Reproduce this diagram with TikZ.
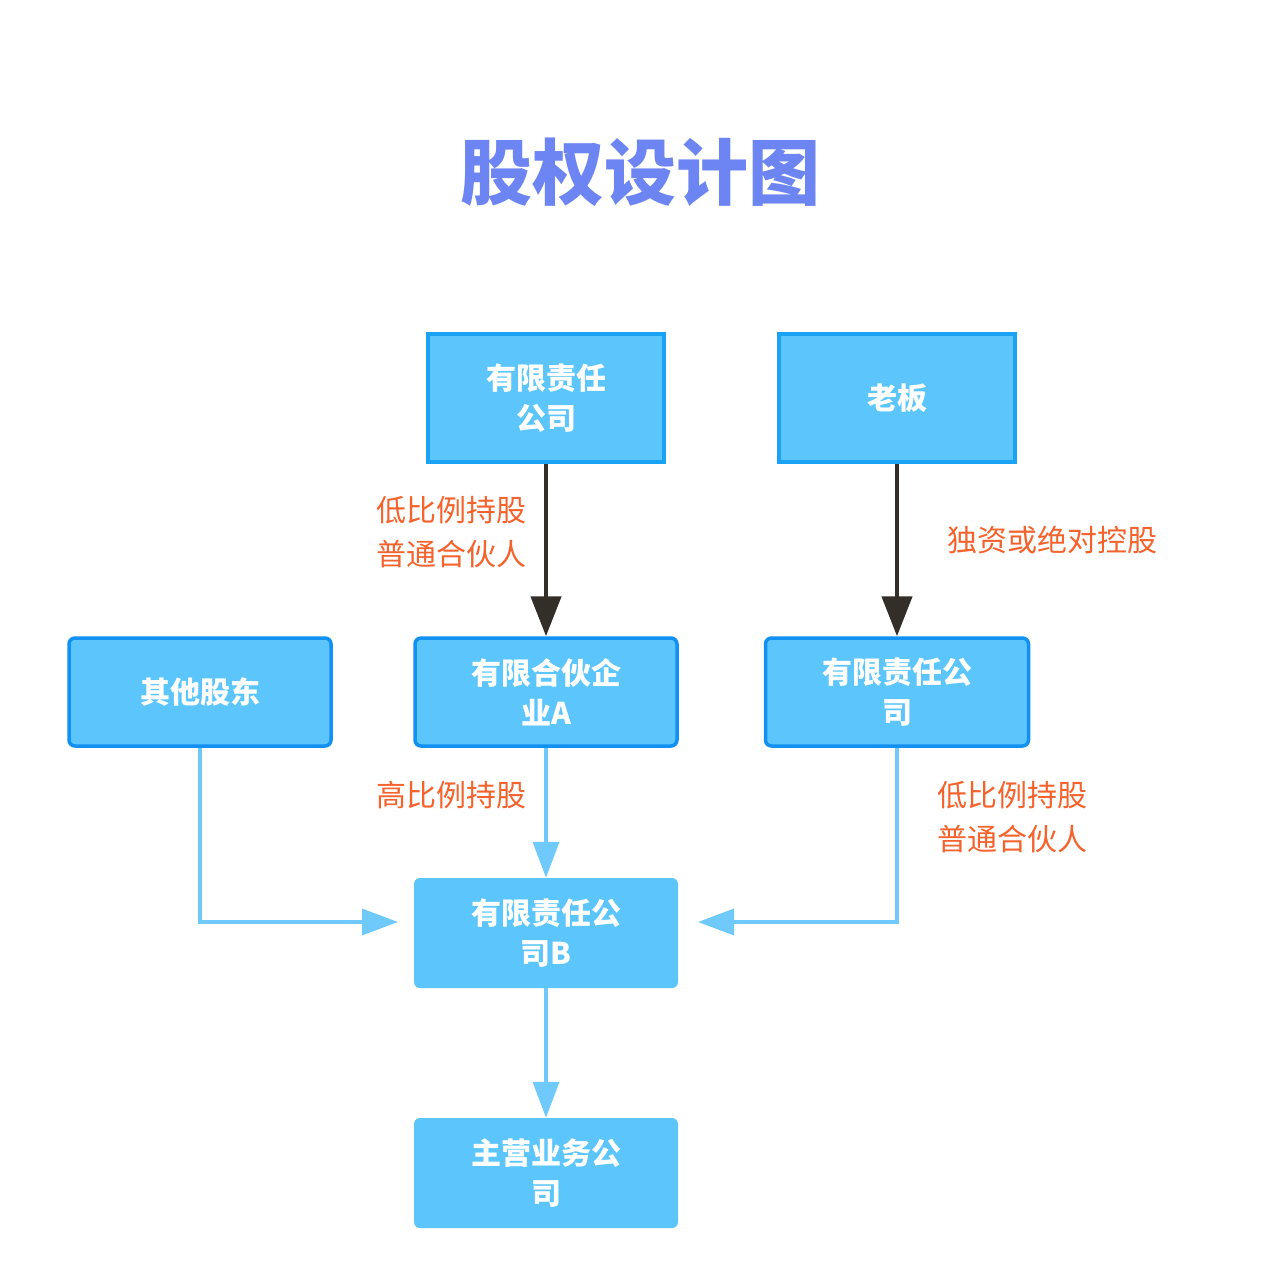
\documentclass[tikz,border=0pt]{standalone}
\usepackage{fontspec}
\setmainfont{Noto Sans CJK SC}
\usetikzlibrary{arrows.meta}
\definecolor{boxfill}{HTML}{5CC6FC}
\definecolor{boxline}{HTML}{1AA3F5}
\definecolor{rline}{HTML}{1291F2}
\definecolor{lblue}{HTML}{6FC9FA}
\definecolor{dark}{HTML}{332F28}
\definecolor{lab}{HTML}{F5622C}
\definecolor{title}{HTML}{6C85F3}
\begin{document}
\begin{tikzpicture}[x=1pt,y=-1pt,
 txt/.style={text=white,font=\fontsize{30}{40}\selectfont\bfseries,align=center},
 sq/.style={txt,fill=boxfill,draw=boxline,line width=3.5pt,inner sep=0pt},
 rd/.style={txt,fill=boxfill,draw=rline,line width=3.5pt,rounded corners=6pt,inner sep=0pt},
 nb/.style={txt,fill=boxfill,rounded corners=6pt,inner sep=0pt},
 lb/.style={text=lab,font=\fontsize{30}{44}\selectfont,align=left,inner sep=0pt},
 darr/.style={draw=dark,line width=4.5pt,-{Triangle[width=30pt,length=40pt]}},
 barr/.style={draw=lblue,line width=3.5pt,-{Triangle[width=26pt,length=36pt]}}]
\useasboundingbox[fill=white] (0,0) rectangle (1280,1266);
\node[font=\fontsize{72}{80}\selectfont\bfseries,text=title] (t) at (640,172) {股权设计图};
\node[sq,minimum width=236,minimum height=128] (a) at (546,398) {有限责任\\公司};
\node[sq,minimum width=236,minimum height=128] (b) at (897,398) {老板};
\node[rd,minimum width=262,minimum height=108] (c) at (200,692) {其他股东};
\node[rd,minimum width=262,minimum height=108] (d) at (546,692) {有限合伙企\\业A};
\node[rd,minimum width=263,minimum height=108] (e) at (897,692) {有限责任公\\司};
\node[nb,minimum width=264,minimum height=110] (f) at (546,933) {有限责任公\\司B};
\node[nb,minimum width=264,minimum height=110] (g) at (546,1173) {主营业务公\\司};
\coordinate (cl) at (398,922);
\coordinate (cr) at (698,922);
\draw[darr] (a.south) -- (d.north);
\draw[darr] (b.south) -- (e.north);
\draw[barr] (d.south) -- (f.north);
\draw[barr] (f.south) -- (g.north);
\draw[barr] (c.south) |- (cl);
\draw[barr] (e.south) |- (cr);
\node[lb,anchor=north east] (l1) at (527,496) {低比例持股\\普通合伙人};
\node[lb,anchor=west] (l2) at (947,540) {独资或绝对控股};
\node[lb,anchor=east] (l3) at (527,795) {高比例持股};
\node[lb,anchor=north west] (l4) at (937,781) {低比例持股\\普通合伙人};
\end{tikzpicture}
\end{document}
